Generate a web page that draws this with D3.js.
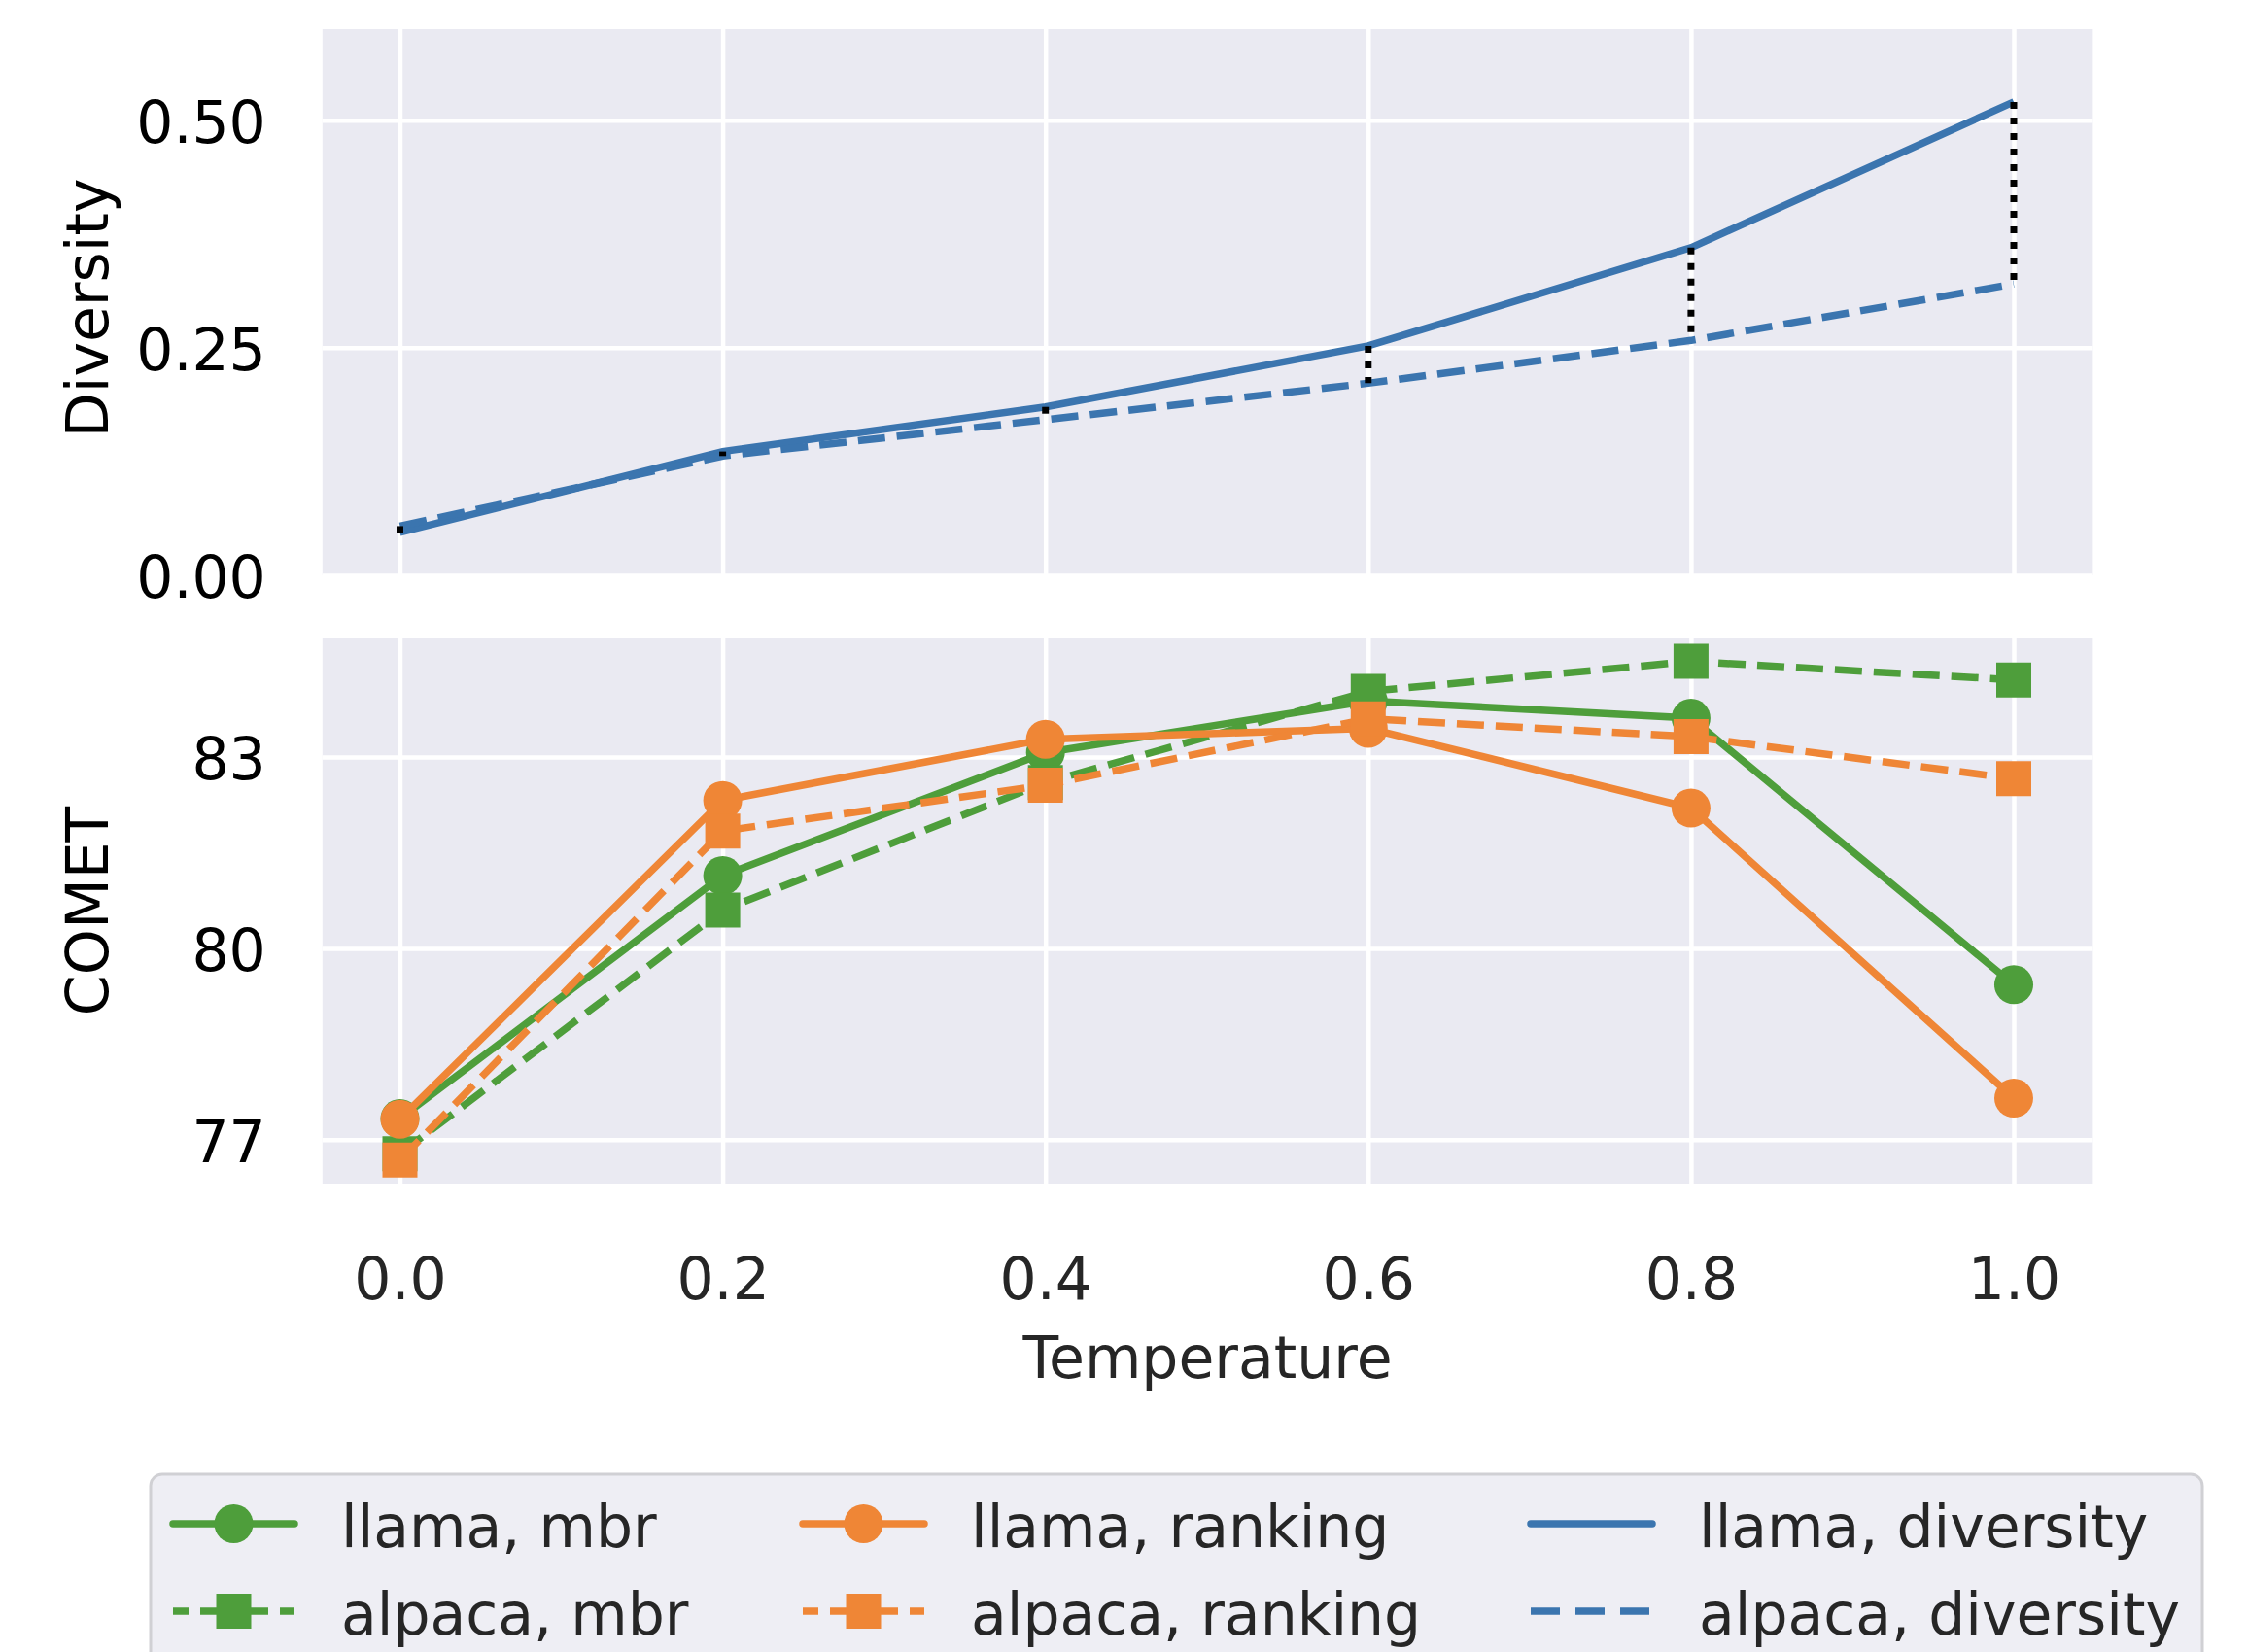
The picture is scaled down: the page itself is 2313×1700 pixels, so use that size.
<!DOCTYPE html>
<html>
<head>
<meta charset="utf-8">
<script src="https://cdn.jsdelivr.net/npm/d3@7"></script>
<style>
  body { margin: 0; background: #fff; }
  svg { display: block; font-family: 'DejaVu Sans', sans-serif; }
</style>
</head>
<body>
<svg id="chart"></svg>
<script>
const temps = [0.0, 0.2, 0.4, 0.6, 0.8, 1.0];

const llamaDiversity = [0.047, 0.136, 0.185, 0.252, 0.360, 0.520];
const alpacaDiversity = [0.054, 0.131, 0.171, 0.211, 0.258, 0.320];

const llamaMbr = [77.33, 81.14, 83.07, 83.88, 83.61, 79.43];
const alpacaMbr = [76.78, 80.60, 82.60, 84.03, 84.50, 84.21];
const llamaRanking = [77.32, 82.32, 83.28, 83.45, 82.20, 77.65];
const alpacaRanking = [76.68, 81.84, 82.56, 83.60, 83.32, 82.66];

const diversityTicks = [0, 0.25, 0.5];
const cometTicks = [77, 80, 83];

const green = '#4e9e3b';
const orange = '#ef8636';
const blue = '#3b75af';

// order matches the legend (filled column by column)
const cometSeries = [
  { label: 'llama, mbr', values: llamaMbr, color: green, dashed: false, marker: 'circle' },
  { label: 'alpaca, mbr', values: alpacaMbr, color: green, dashed: true, marker: 'square' },
  { label: 'llama, ranking', values: llamaRanking, color: orange, dashed: false, marker: 'circle' },
  { label: 'alpaca, ranking', values: alpacaRanking, color: orange, dashed: true, marker: 'square' }
];
const diversitySeries = [
  { label: 'llama, diversity', values: llamaDiversity, color: blue, dashed: false, marker: null },
  { label: 'alpaca, diversity', values: alpacaDiversity, color: blue, dashed: true, marker: null }
];

const width = 2313;
const height = 1700;
const bg = '#eaeaf2';
const fontSize = 60;
const lineW = 7.5;
const dash = '28,12';

const svg = d3.select('#chart')
  .attr('width', width)
  .attr('height', height);

const xScale = d3.scaleLinear()
  .domain([0, 1])
  .range([411.5, 2072]);
const xLo = -0.048, xHi = 1.049;
const panelLeft = xScale(xLo);
const panelW = xScale(xHi) - xScale(xLo);

const yTop = d3.scaleLinear()
  .domain([0, 0.6])
  .range([592, 30]);

const yBot = d3.scaleLinear()
  .domain([76.31, 84.86])
  .range([1218, 657]);

const symbolFor = (m) => {
  if (m === 'circle') return d3.symbol(d3.symbolCircle, Math.PI * 20 * 20);
  return d3.symbol(d3.symbolSquare, 36 * 36);
};

const drawPanel = (yScale, ticks, fmt, showX) => {
  const [bottom, topY] = yScale.range();
  const g = svg.append('g');
  g.append('rect')
    .attr('x', panelLeft)
    .attr('y', topY)
    .attr('width', panelW)
    .attr('height', bottom - topY)
    .attr('fill', bg);

  const yAxis = d3.axisLeft(yScale)
    .tickValues(ticks)
    .tickSize(-panelW)
    .tickPadding(58)
    .tickFormat(fmt);
  const ya = g.append('g')
    .attr('transform', `translate(${panelLeft},0)`)
    .call(yAxis);
  ya.select('.domain').remove();
  ya.selectAll('line').attr('stroke', '#fff').attr('stroke-width', 4.5);
  ya.selectAll('text')
    .attr('font-size', fontSize)
    .attr('dy', '0.38em')
    .attr('fill', '#000')
    .attr('font-family', 'DejaVu Sans');

  const xAxis = d3.axisBottom(xScale)
    .tickValues(temps)
    .tickSize(-(bottom - topY))
    .tickPadding(76)
    .tickFormat(showX ? d3.format('.1f') : '');
  const xa = g.append('g')
    .attr('transform', `translate(0,${bottom})`)
    .call(xAxis);
  xa.select('.domain').remove();
  xa.selectAll('line').attr('stroke', '#fff').attr('stroke-width', 4.5);
  xa.selectAll('text')
    .attr('font-size', fontSize)
    .attr('fill', '#262626')
    .attr('font-family', 'DejaVu Sans');
  return g;
};

const topPanel = drawPanel(yTop, diversityTicks, d3.format('.2f'), false);
const botPanel = drawPanel(yBot, cometTicks, d3.format('d'), true);

// diversity lines
diversitySeries.forEach(s => {
  const line = d3.line()
    .x((d, i) => xScale(temps[i]))
    .y(d => yTop(d));
  topPanel.append('path')
    .datum(s.values)
    .attr('d', line)
    .attr('fill', 'none')
    .attr('stroke', s.color)
    .attr('stroke-width', lineW)
    .attr('stroke-dasharray', s.dashed ? dash : null);
});

// dotted gap between llama and alpaca diversity
topPanel.selectAll('.gap')
  .data(temps)
  .enter()
  .append('line')
  .attr('class', 'gap')
  .attr('x1', d => xScale(d))
  .attr('x2', d => xScale(d))
  .attr('y1', (d, i) => yTop(llamaDiversity[i]))
  .attr('y2', (d, i) => yTop(alpacaDiversity[i]))
  .attr('stroke', '#000')
  .attr('stroke-width', 7)
  .attr('stroke-dasharray', '7,9');

// comet lines + markers
cometSeries.forEach(s => {
  const line = d3.line()
    .x((d, i) => xScale(temps[i]))
    .y(d => yBot(d));
  botPanel.append('path')
    .datum(s.values)
    .attr('d', line)
    .attr('fill', 'none')
    .attr('stroke', s.color)
    .attr('stroke-width', lineW)
    .attr('stroke-dasharray', s.dashed ? dash : null);
  botPanel.selectAll(null)
    .data(s.values)
    .enter()
    .append('path')
    .attr('d', symbolFor(s.marker))
    .attr('transform', (d, i) => `translate(${xScale(temps[i])},${yBot(d)})`)
    .attr('fill', s.color);
});

// axis labels
svg.append('text')
  .attr('transform', `translate(111,317) rotate(-90)`)
  .attr('text-anchor', 'middle')
  .attr('font-size', fontSize)
  .attr('fill', '#000')
  .text('Diversity');

svg.append('text')
  .attr('transform', `translate(111,${(yBot.range()[0] + yBot.range()[1]) / 2}) rotate(-90)`)
  .attr('text-anchor', 'middle')
  .attr('font-size', fontSize)
  .attr('fill', '#000')
  .text('COMET');

svg.append('text')
  .attr('x', panelLeft + panelW / 2)
  .attr('y', 1418)
  .attr('text-anchor', 'middle')
  .attr('font-size', fontSize)
  .attr('fill', '#262626')
  .text('Temperature');

// legend
const legend = svg.append('g');
legend.append('rect')
  .attr('x', 155)
  .attr('y', 1517)
  .attr('width', 2111)
  .attr('height', 260)
  .attr('rx', 12)
  .attr('fill', '#eeeef4')
  .attr('stroke', '#d0d0d4')
  .attr('stroke-width', 3);

const legendItems = cometSeries.concat(diversitySeries);
const colX = [178, 826, 1575];
const rowY = [1568, 1658];
const handleLen = 125;

legendItems.forEach((s, k) => {
  const cx = colX[Math.floor(k / 2)];
  const cy = rowY[k % 2];
  const item = legend.append('g').attr('transform', `translate(${cx},${cy})`);
  item.append('line')
    .attr('x1', 0)
    .attr('x2', handleLen)
    .attr('y1', 0)
    .attr('y2', 0)
    .attr('stroke', s.color)
    .attr('stroke-width', lineW)
    .attr('stroke-linecap', s.dashed ? 'butt' : 'round')
    .attr('stroke-dasharray', s.dashed ? (s.marker ? '16,12,70,12' : '30,16') : null);
  if (s.marker) {
    item.append('path')
      .attr('d', symbolFor(s.marker))
      .attr('transform', `translate(${handleLen / 2},0)`)
      .attr('fill', s.color);
  }
  item.append('text')
    .attr('x', handleLen + 48)
    .attr('y', 24)
    .attr('font-size', fontSize)
    .attr('fill', '#262626')
    .text(s.label);
});
</script>
</body>
</html>
